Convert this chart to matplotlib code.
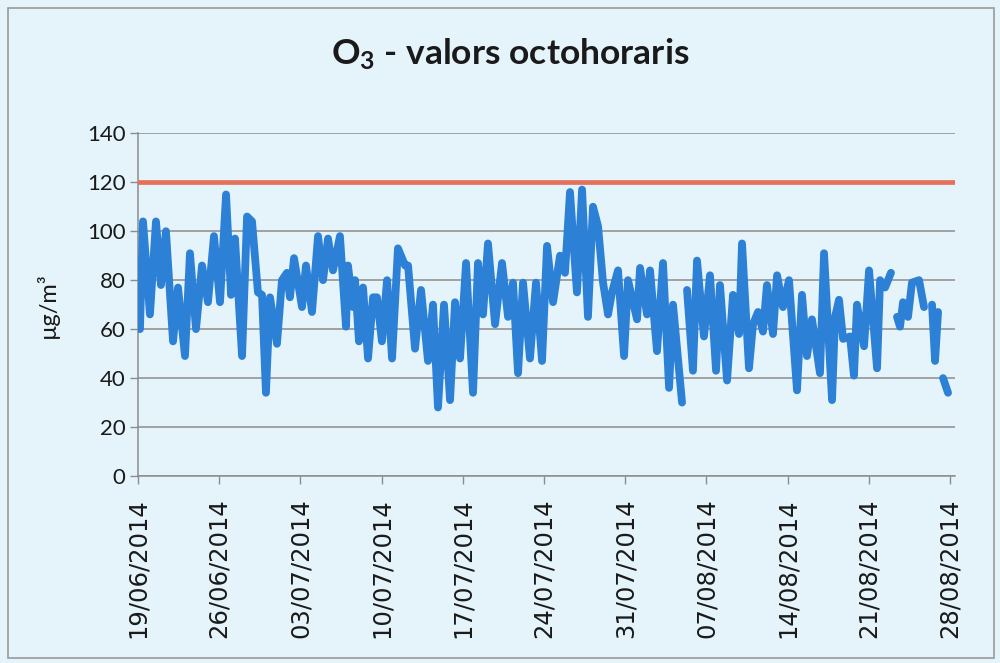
import numpy as np
import pandas as pd
import matplotlib
matplotlib.use("Agg")
import matplotlib.pyplot as plt
from matplotlib.patches import Rectangle

# ---------------- data ----------------
start_date = "2014-06-19"
# time of each reading, in days after 19/06/2014 00:00 (nan = missing data)
day_offsets = [
    0.17, 0.43, 1.03, 1.55, 1.98, 2.41, 3.02, 3.45, 4.05, 4.48, 5.00, 5.52,
    6.03, 6.55, 7.07, 7.59, 8.02, 8.36, 8.97, 9.40, 9.83, 10.34, 10.69, 11.03,
    11.38, 11.98, 12.41, 12.84, 13.10, 13.45, 14.14, 14.48, 15.00, 15.52, 15.95,
    16.38, 16.81, 17.41, 17.93, 18.10, 18.53, 18.71, 19.05, 19.40, 19.83, 20.26,
    20.60, 21.03, 21.47, 21.90, 22.41, 23.02, 23.28, 23.88, 24.40, 25.00, 25.43,
    25.86, 26.38, 26.90, 27.33, 27.76, 28.28, 28.88, 29.31, 29.74, 30.17, 30.78,
    31.38, 31.90, 32.33, 32.76, 33.19, 33.79, 34.31, 34.83, 35.26, 35.78, 36.38,
    36.81, 37.24, 37.84, 38.28, 38.79, 39.22, 39.66, 40.09, 40.52, 40.86, 41.38,
    41.90, 42.24, 43.02, 43.28, 43.88, 44.14, 44.74, 45.26, 45.78, 46.12, 46.90,
    47.10, 47.33, 47.84, 48.19, 48.79, 49.31, 49.83, 50.17, 50.78, 51.29, 51.81,
    52.07, 52.67, 53.02, 53.45, 53.88, 54.22, 54.74, 55.09, 55.60, 56.12, 56.81,
    57.24, 57.67, 58.10, 58.79, 59.14, 59.83, 60.09, 60.43, 60.78, 61.38, 61.72,
    61.98, 62.59, 63.02, 63.71, 63.97, 64.40, 64.91, 65.20, 65.43, 65.69, 65.95,
    66.38, 66.72, 67.33, 67.76, 68.10, 68.45, 68.71, 68.97, 69.20, 69.40, 69.83,
]
o3_values = [
    60, 104, 66, 104, 78, 100, 55, 77, 49, 91, 60, 86,
    71, 98, 71, 115, 74, 97, 49, 106, 104, 75, 74, 34,
    73, 54, 80, 83, 73, 89, 69, 86, 67, 98, 80,
    97, 84, 98, 61, 86, 69, 80, 55, 77, 48, 73,
    73, 55, 80, 48, 93, 86, 86, 52, 76, 47, 70,
    28, 70, 31, 71, 48, 87, 34, 87, 66, 95, 62,
    87, 65, 79, 42, 79, 48, 79, 47, 94, 71, 90,
    83, 116, 75, 117, 65, 110, 102, 79, 66, 75, 84,
    49, 80, 64, 85, 66, 84, 51, 87, 36, 70, 30,
    np.nan, 76, 43, 88, 57, 82, 43, 78, 39, 74, 58,
    95, 44, 62, 67, 59, 78, 58, 82, 69, 80, 35,
    74, 49, 64, 42, 91, 31, 65, 72, 56, 57, 41,
    70, 53, 84, 44, 80, 77, 83, np.nan, 65, 61, 71,
    65, 79, 80, 69, np.nan, 70, 47, 67, np.nan, 40, 34,
]
limit_value = 120
y_ticks = [0, 20, 40, 60, 80, 100, 120, 140]
x_tick_labels = ["19/06/2014", "26/06/2014", "03/07/2014", "10/07/2014",
                 "17/07/2014", "24/07/2014", "31/07/2014", "07/08/2014",
                 "14/08/2014", "21/08/2014", "28/08/2014"]

# ---------------- styling ----------------
bg = "#e5f4fa"
blue = "#2c80d6"
red = "#e5705c"
grid_c = "#8c8c8c"
txt = "#1a1a1a"

plt.rcParams["mathtext.fontset"] = "custom"
plt.rcParams["mathtext.rm"] = "Lato:bold"
plt.rcParams["mathtext.it"] = "Lato:bold"
plt.rcParams["mathtext.bf"] = "Lato:bold"

fig = plt.figure(figsize=(10, 6.63), dpi=100, facecolor=bg)
ax = fig.add_axes([0.138, 0.282, 0.817, 0.517])
ax.set_facecolor(bg)

t0 = pd.Timestamp(start_date)
times = t0 + pd.to_timedelta(np.array(day_offsets), unit="D")
vals = np.array(o3_values, dtype=float)

ax.axhline(limit_value, color=red, lw=3.4, zorder=3)
ax.plot(times, vals, color=blue, lw=5.6, solid_joinstyle="round",
        solid_capstyle="round", zorder=4)

ax.set_ylim(0, 140)
ax.set_yticks(y_ticks)
ax.set_xlim(t0, t0 + pd.Timedelta(days=70.43))
tick_dates = [pd.to_datetime(s, format="%d/%m/%Y") for s in x_tick_labels]
ax.set_xticks(tick_dates)
ax.set_xticklabels(x_tick_labels, rotation=90, fontsize=17.5,
                   family="DejaVu Sans", color=txt)
ax.tick_params(axis="x", length=6, width=1, color=grid_c, pad=10)
ax.tick_params(axis="y", length=6, width=1, color=grid_c, pad=3,
               labelsize=16, labelcolor=txt)
for lab in ax.get_yticklabels():
    lab.set_family("Lato")

ax.grid(axis="y", color=grid_c, lw=1.1, zorder=1)
for s in ["top", "right"]:
    ax.spines[s].set_visible(False)
ax.spines["left"].set_color(grid_c)
ax.spines["bottom"].set_color(grid_c)
ax.spines["left"].set_linewidth(1.1)
ax.spines["bottom"].set_linewidth(1.1)

ax.set_ylabel("µg/m³", fontsize=17, family="Lato", color=txt, labelpad=20)

fig.text(0.51, 0.918, r"O$_\mathrm{3}$ - valors octohoraris", ha="center",
         va="center", fontsize=25.5, family="Lato", weight="bold", color=txt)

fig.patches.append(Rectangle((0.008, 0.008), 0.986, 0.98, transform=fig.transFigure,
                             fill=False, edgecolor="#9a9a9a", lw=1.2))

fig.savefig("out.png", dpi=100, facecolor=bg)
